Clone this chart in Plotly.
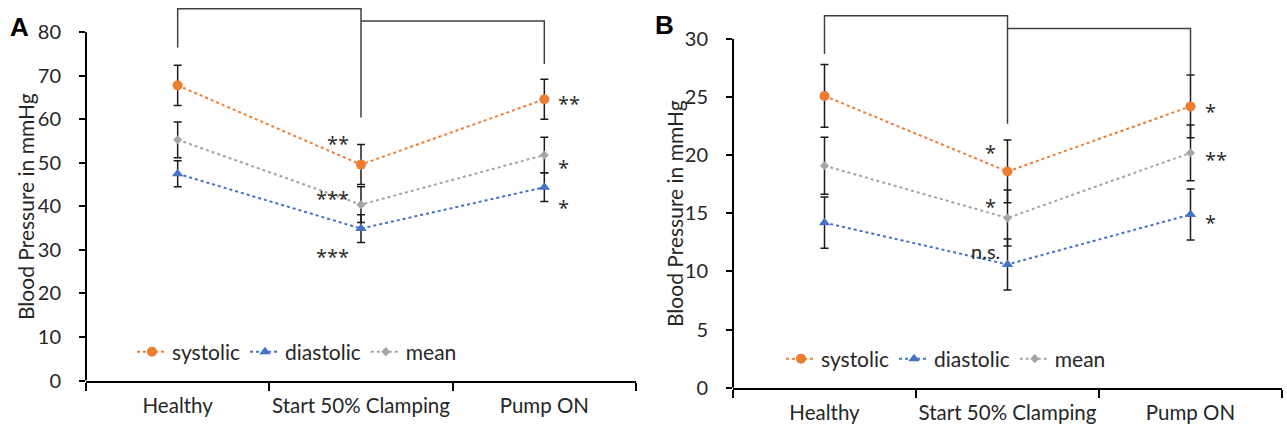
import plotly.graph_objects as go

categories = ["Healthy", "Start 50% Clamping", "Pump ON"]

# Panel A
sys_A = [67.8, 49.6, 64.6]
sys_A_err = [4.6, 4.6, 4.6]
dia_A = [47.5, 34.9, 44.4]
dia_A_err = [3.0, 3.2, 3.3]
mean_A = [55.3, 40.4, 51.8]
mean_A_err = [4.1, 4.1, 4.1]

# Panel B
sys_B = [25.1, 18.6, 24.2]
sys_B_err = [2.7, 2.7, 2.7]
dia_B = [14.2, 10.6, 14.9]
dia_B_err = [2.2, 2.2, 2.2]
mean_B = [19.1, 14.6, 20.2]
mean_B_err = [2.45, 2.4, 2.4]

# significance brackets (x category, y value)
bracketA1_x = ["Healthy", "Healthy", "Start 50% Clamping", "Start 50% Clamping"]
bracketA1_y = [76.5, 85.4, 85.4, 60.4]
bracketA2_x = ["Start 50% Clamping", "Pump ON", "Pump ON"]
bracketA2_y = [82.6, 82.6, 72.7]
bracketB1_x = ["Healthy", "Healthy", "Start 50% Clamping", "Start 50% Clamping"]
bracketB1_y = [28.7, 32.0, 32.0, 22.7]
bracketB2_x = ["Start 50% Clamping", "Pump ON", "Pump ON"]
bracketB2_y = [30.9, 30.9, 26.8]

# significance labels: (text, category, value, side)
sig_A = [("**", "Start 50% Clamping", 55.5, "left"),
         ("***", "Start 50% Clamping", 43.0, "left"),
         ("***", "Start 50% Clamping", 29.6, "left"),
         ("**", "Pump ON", 64.7, "right"),
         ("*", "Pump ON", 50.1, "right"),
         ("*", "Pump ON", 40.8, "right")]
sig_B = [("*", "Start 50% Clamping", 20.7, "left"),
         ("*", "Start 50% Clamping", 16.0, "left"),
         ("n.s.", "Start 50% Clamping", 11.8, "left"),
         ("*", "Pump ON", 24.2, "right"),
         ("**", "Pump ON", 20.1, "right"),
         ("*", "Pump ON", 14.6, "right")]

yticks_A = [0, 10, 20, 30, 40, 50, 60, 70, 80]
yticks_B = [0, 5, 10, 15, 20, 25, 30]

ORANGE = "#ED7D31"
BLUE = "#4472C4"
GRAY = "#A5A5A5"
TXT = "#262626"
FONT = "Lato"

fig = go.Figure()

def add_series(xa, ya, legend, data):
    for name, vals, errs, color, symbol, size in data:
        fig.add_trace(go.Scatter(
            x=categories, y=vals, name=name, mode="lines+markers",
            line=dict(color=color, width=2, dash="dot"),
            marker=dict(color=color, symbol=symbol, size=size),
            error_y=dict(type="data", array=errs, color="#1a1a1a", thickness=1.5, width=4),
            xaxis=xa, yaxis=ya, legend=legend))

add_series("x", "y", "legend", [
    ("systolic", sys_A, sys_A_err, ORANGE, "circle", 10),
    ("diastolic", dia_A, dia_A_err, BLUE, "triangle-up", 10),
    ("mean", mean_A, mean_A_err, GRAY, "diamond", 7)])
add_series("x2", "y2", "legend2", [
    ("systolic", sys_B, sys_B_err, ORANGE, "circle", 10),
    ("diastolic", dia_B, dia_B_err, BLUE, "triangle-up", 10),
    ("mean", mean_B, mean_B_err, GRAY, "diamond", 7)])

for bx, by, xa, ya in [(bracketA1_x, bracketA1_y, "x", "y"), (bracketA2_x, bracketA2_y, "x", "y"),
                       (bracketB1_x, bracketB1_y, "x2", "y2"), (bracketB2_x, bracketB2_y, "x2", "y2")]:
    fig.add_trace(go.Scatter(x=bx, y=by, mode="lines", line=dict(color="#404040", width=1.5),
                             showlegend=False, hoverinfo="skip", xaxis=xa, yaxis=ya))

annotations = []
for sigs, xr, yr in [(sig_A, "x", "y"), (sig_B, "x2", "y2")]:
    for text, cat, val, side in sigs:
        star = text != "n.s."
        annotations.append(dict(
            text=text, x=cat, y=val, xref=xr, yref=yr, showarrow=False,
            xanchor="right" if side == "left" else "left", yanchor="middle",
            xshift=(-10 if star else -6) if side == "left" else 12,
            yshift=-5 if star else 0,
            font=dict(family="Open Sans" if star else FONT, size=20 if star else 20, color=TXT)))

# axis titles and panel letters
for xpos, ypos in [(25 / 1287, 1 - 207 / 432), (674 / 1287, 1 - 214 / 432)]:
    annotations.append(dict(text="Blood Pressure in mmHg", x=xpos, y=ypos, xref="paper", yref="paper",
                            showarrow=False, textangle=-90, xanchor="center", yanchor="middle",
                            font=dict(family=FONT, size=21, color=TXT)))
for letter, xpos, ypos in [("A", 19 / 1287, 1 - 26.7 / 432), ("B", 664 / 1287, 1 - 25 / 432)]:
    annotations.append(dict(text="<b>" + letter + "</b>", x=xpos, y=ypos, xref="paper", yref="paper",
                            showarrow=False, xanchor="center", yanchor="middle",
                            font=dict(family="Liberation Sans", size=26, color="#000")))

shapes = []
for xr, yr, top in [("x domain", "y", yticks_A[-1]), ("x2 domain", "y2", yticks_B[-1])]:
    shapes.append(dict(type="line", xref=xr, yref=yr, x0=0, x1=0, y0=0, y1=top,
                       line=dict(color="#000", width=2), layer="above"))

xdomA = [86 / 1287, 636 / 1287]
xdomB = [733 / 1287, 1282 / 1287]
ydomA = [1 - 380.5 / 432, 1 - 1.8 / 432]
ydomB = [1 - 387.7 / 432, 1 - 4.1 / 432]

def xaxis(domain, anchor):
    return dict(domain=domain, anchor=anchor, type="category", categoryorder="array",
                categoryarray=categories, range=[-0.5, 2.5], tickson="boundaries",
                ticks="outside", ticklen=8, tickwidth=2, tickcolor="#000", tickangle=0,
                automargin=False,
                showline=True, linewidth=2, linecolor="#000", showgrid=False, zeroline=False,
                ticklabelstandoff=6, tickfont=dict(family=FONT, size=20.5, color=TXT))

def yaxis(domain, anchor, rng, ticks):
    return dict(domain=domain, anchor=anchor, range=rng, tickvals=ticks, ticks="outside",
                ticklen=6, tickwidth=2, tickcolor="#000", showline=False, showgrid=False,
                automargin=False,
                zeroline=False, ticklabelstandoff=14, tickfont=dict(family=FONT, size=20, color=TXT))

def yaxis_in(over, anchor, rng, ticks):
    return dict(overlaying=over, anchor=anchor, range=rng, tickvals=ticks, ticks="inside",
                ticklen=6, tickwidth=2, tickcolor="#000", showline=False, showgrid=False,
                automargin=False,
                zeroline=False, showticklabels=False, side="left")

legend_common = dict(orientation="h", xanchor="left", yanchor="middle", bgcolor="rgba(0,0,0,0)",
                     font=dict(family=FONT, size=21, color=TXT), itemwidth=30, tracegroupgap=0)

fig.update_layout(
    width=1287, height=432, margin=dict(l=0, r=0, t=0, b=0, autoexpand=False),
    paper_bgcolor="white", plot_bgcolor="white",
    xaxis=xaxis(xdomA, "y"), yaxis=yaxis(ydomA, "x", [0, 87], yticks_A),
    xaxis2=xaxis(xdomB, "y2"), yaxis2=yaxis(ydomB, "x2", [0, 33], yticks_B),
    yaxis3=yaxis_in("y", "x", [0, 87], yticks_A),
    yaxis4=yaxis_in("y2", "x2", [0, 33], yticks_B),
    legend=dict(x=132 / 1287, y=1 - 352 / 432, **legend_common),
    legend2=dict(x=781 / 1287, y=1 - 359 / 432, **legend_common),
    annotations=annotations, shapes=shapes, showlegend=True,
)

fig.write_html("out.html")
